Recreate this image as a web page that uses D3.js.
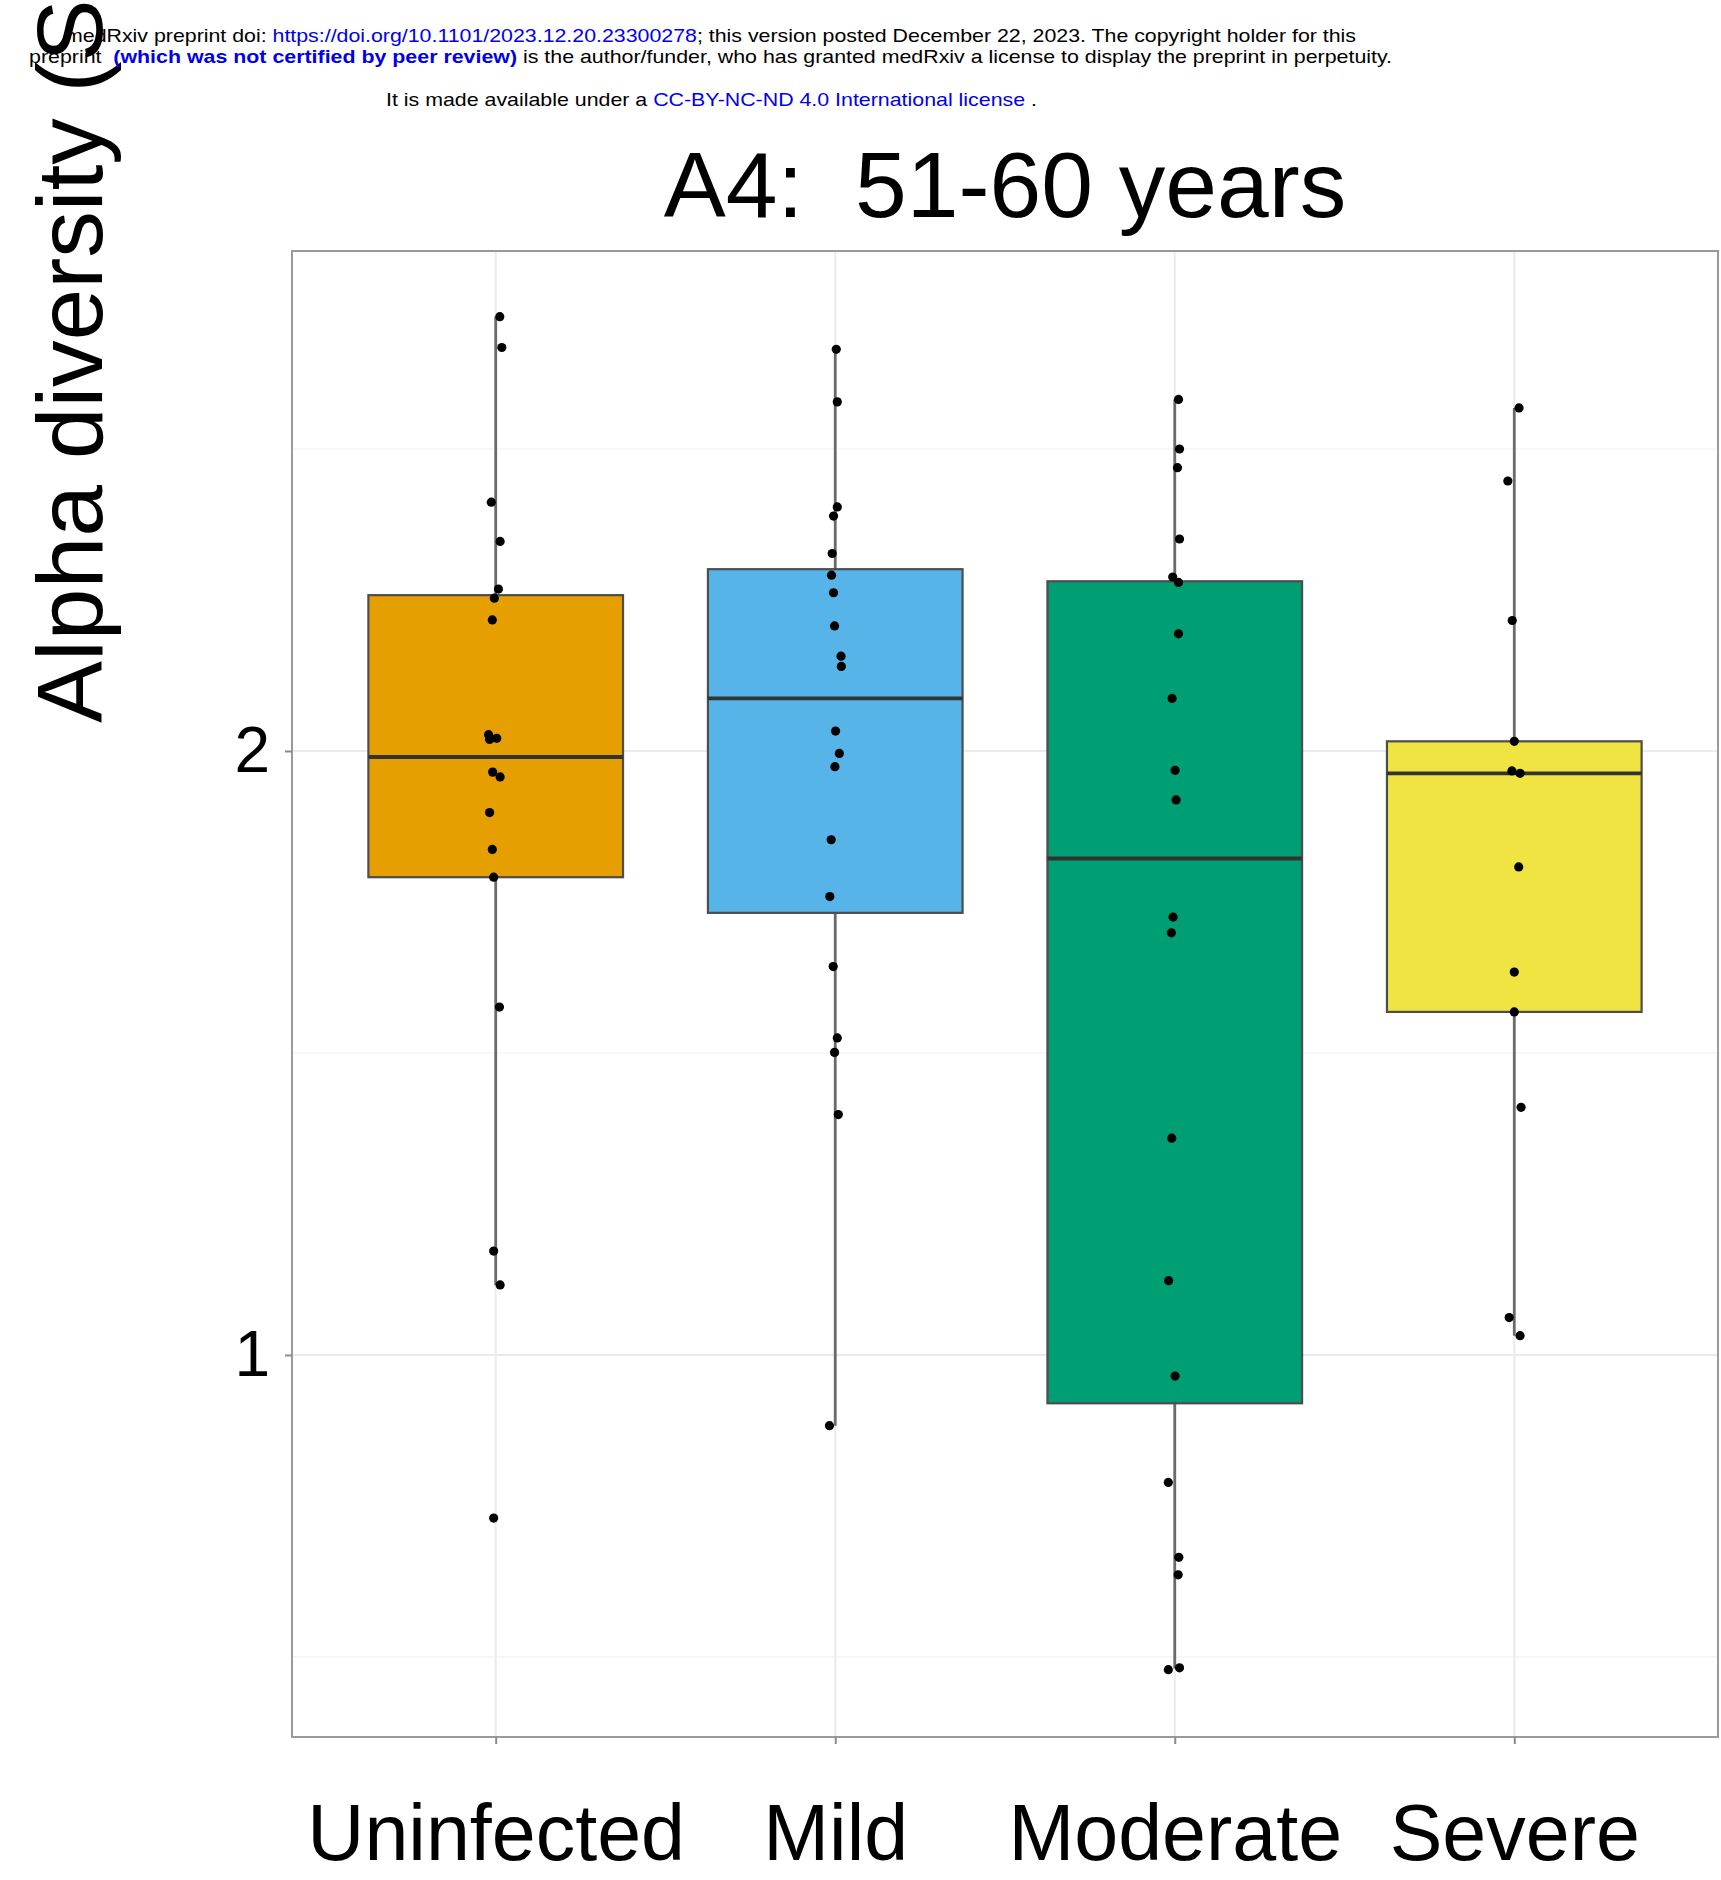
<!DOCTYPE html>
<html>
<head>
<meta charset="utf-8">
<script src="https://cdn.jsdelivr.net/npm/d3@7"></script>
<style>
  html, body { margin: 0; padding: 0; background: #fff; }
  svg { display: block; font-family: "Liberation Sans", Arial, sans-serif; }
</style>
</head>
<body>
<svg id="chart" width="1721" height="1880"></svg>
<script>
// ---------- data ----------
const categories = ["Uninfected", "Mild", "Moderate", "Severe"];
const fillColors = ["#E69F00", "#56B4E9", "#009E73", "#F0E442"];

// box statistics
const q1Values      = [1.791, 1.732, 0.920, 1.568];
const medianValues  = [1.990, 2.087, 1.822, 1.963];
const q3Values      = [2.258, 2.301, 2.281, 2.016];
const whiskerLow    = [1.116, 0.883, 0.481, 1.032];
const whiskerHigh   = [2.719, 2.665, 2.582, 2.568];

// individual observations (Shannon index)
const uninfectedPoints = [2.719, 2.668, 2.412, 2.347, 2.268, 2.253, 2.217, 2.027, 2.019, 2.021, 1.965, 1.957, 1.898, 1.837, 1.791, 1.576, 1.172, 1.116, 0.730];
const mildPoints       = [2.665, 2.578, 2.404, 2.389, 2.327, 2.291, 2.262, 2.207, 2.157, 2.140, 2.033, 1.996, 1.974, 1.853, 1.759, 1.643, 1.525, 1.501, 1.398, 0.883];
const moderatePoints   = [2.582, 2.500, 2.469, 2.351, 2.288, 2.279, 2.194, 2.087, 1.968, 1.919, 1.725, 1.699, 1.359, 1.123, 0.965, 0.789, 0.665, 0.636, 0.479, 0.482];
const severePoints     = [2.568, 2.447, 2.216, 2.016, 1.967, 1.963, 1.808, 1.634, 1.568, 1.410, 1.062, 1.032];

// horizontal jitter of each point, in category units
const uninfectedJitter = [0.012, 0.018, -0.013, 0.013, 0.008, -0.004, -0.010, -0.021, -0.018, 0.003, -0.009, 0.013, -0.018, -0.010, -0.006, 0.011, -0.006, 0.013, -0.006];
const mildJitter       = [0.003, 0.006, 0.006, -0.005, -0.009, -0.011, -0.005, -0.002, 0.017, 0.018, 0.001, 0.012, -0.001, -0.012, -0.016, -0.006, 0.006, -0.002, 0.009, -0.017];
const moderateJitter   = [0.011, 0.014, 0.008, 0.014, -0.006, 0.011, 0.011, -0.008, 0.001, 0.004, -0.005, -0.010, -0.009, -0.018, 0.001, -0.019, 0.012, 0.010, -0.019, 0.014];
const severeJitter     = [0.014, -0.019, -0.006, 0.000, -0.007, 0.017, 0.013, 0.000, 0.000, 0.020, -0.015, 0.017];

const yTickValues = [1, 2];
const yMinorValues = [0.5, 1.5, 2.5];
const yDomain = [0.3675, 2.8278];

const titleText = "A4:  51-60 years";
const yLabelText = "Alpha diversity (Shannon)";

// ---------- layout ----------
const svg = d3.select("#chart");
const panel = { left: 292, right: 1718, top: 251, bottom: 1737 };

const x = d3.scalePoint().domain(categories).range([panel.left, panel.right]).padding(0.6);
const step = x.step();
const y = d3.scaleLinear().domain(yDomain).range([panel.bottom, panel.top]);
const boxWidth = 0.75 * step;

const groups = categories.map((c, i) => ({
  cat: c,
  fill: fillColors[i],
  q1: q1Values[i], med: medianValues[i], q3: q3Values[i],
  lo: whiskerLow[i], hi: whiskerHigh[i],
  pts: [uninfectedPoints, mildPoints, moderatePoints, severePoints][i],
  jit: [uninfectedJitter, mildJitter, moderateJitter, severeJitter][i]
}));

// ---------- grid ----------
const grid = svg.append("g");
grid.selectAll("line.minor").data(yMinorValues).join("line")
  .attr("x1", panel.left).attr("x2", panel.right)
  .attr("y1", d => y(d)).attr("y2", d => y(d))
  .attr("stroke", "#f2f2f2").attr("stroke-width", 1.2);
grid.selectAll("line.major").data(yTickValues).join("line")
  .attr("x1", panel.left).attr("x2", panel.right)
  .attr("y1", d => y(d)).attr("y2", d => y(d))
  .attr("stroke", "#ebebeb").attr("stroke-width", 2);
grid.selectAll("line.vx").data(categories).join("line")
  .attr("x1", d => x(d)).attr("x2", d => x(d))
  .attr("y1", panel.top).attr("y2", panel.bottom)
  .attr("stroke", "#ebebeb").attr("stroke-width", 2);

// ---------- boxes ----------
const boxG = svg.append("g").selectAll("g").data(groups).join("g");
boxG.append("line")
  .attr("x1", d => x(d.cat)).attr("x2", d => x(d.cat))
  .attr("y1", d => y(d.hi)).attr("y2", d => y(d.q3))
  .attr("stroke", "#6a6a6a").attr("stroke-width", 2.8);
boxG.append("line")
  .attr("x1", d => x(d.cat)).attr("x2", d => x(d.cat))
  .attr("y1", d => y(d.q1)).attr("y2", d => y(d.lo))
  .attr("stroke", "#6a6a6a").attr("stroke-width", 2.8);
boxG.append("rect")
  .attr("x", d => x(d.cat) - boxWidth / 2)
  .attr("width", boxWidth)
  .attr("y", d => y(d.q3))
  .attr("height", d => y(d.q1) - y(d.q3))
  .attr("fill", d => d.fill)
  .attr("stroke", "#4d4d4d").attr("stroke-width", 2.2);
boxG.append("line")
  .attr("x1", d => x(d.cat) - boxWidth / 2).attr("x2", d => x(d.cat) + boxWidth / 2)
  .attr("y1", d => y(d.med)).attr("y2", d => y(d.med))
  .attr("stroke", "#333333").attr("stroke-width", 3.8);

// ---------- points ----------
const ptData = groups.flatMap(g => g.pts.map((v, j) => ({ cat: g.cat, v, j: g.jit[j] })));
svg.append("g").selectAll("circle").data(ptData).join("circle")
  .attr("cx", d => x(d.cat) + d.j * step)
  .attr("cy", d => y(d.v))
  .attr("r", 4.6)
  .attr("fill", "#000");

// ---------- panel border ----------
svg.append("rect")
  .attr("x", panel.left).attr("y", panel.top)
  .attr("width", panel.right - panel.left).attr("height", panel.bottom - panel.top)
  .attr("fill", "none").attr("stroke", "#9a9a9a").attr("stroke-width", 2);

// ---------- axes ----------
const yAxis = svg.append("g")
  .attr("transform", `translate(${panel.left},0)`)
  .call(d3.axisLeft(y).tickValues(yTickValues).tickFormat(d3.format("d")).tickSize(7).tickPadding(15));
yAxis.select(".domain").remove();
yAxis.selectAll(".tick line").attr("stroke", "#8a8a8a").attr("stroke-width", 2);
yAxis.selectAll(".tick text").attr("font-size", 64).attr("fill", "#000")
  .attr("font-family", "'Liberation Sans', Arial, sans-serif");

const xAxis = svg.append("g")
  .attr("transform", `translate(0,${panel.bottom})`)
  .call(d3.axisBottom(x).tickSize(7).tickPadding(60));
xAxis.select(".domain").remove();
xAxis.selectAll(".tick line").attr("stroke", "#8a8a8a").attr("stroke-width", 2);
xAxis.selectAll(".tick text").attr("font-size", 79).attr("fill", "#000")
  .attr("font-family", "'Liberation Sans', Arial, sans-serif");

// ---------- title & y label ----------
svg.append("text")
  .attr("x", (panel.left + panel.right) / 2).attr("y", 217)
  .attr("text-anchor", "middle").attr("font-size", 93).attr("fill", "#000")
  .attr("xml:space", "preserve").style("white-space", "pre")
  .text(titleText);

svg.append("text")
  .attr("transform", "translate(102,723) rotate(-90)")
  .attr("text-anchor", "start").attr("font-size", 93).attr("fill", "#000")
  .text(yLabelText);

// ---------- preprint header ----------
const headerLines = [
  { x: 65, y: 42, len: 1291, parts: [
    { t: "medRxiv preprint doi: ", c: "#000" },
    { t: "https://doi.org/10.1101/2023.12.20.23300278", c: "#0000ee" },
    { t: "; this version posted December 22, 2023. The copyright holder for this", c: "#000" } ] },
  { x: 29, y: 63, len: 1363, parts: [
    { t: "preprint  ", c: "#000" },
    { t: "(which was not certified by peer review)", c: "#0000ee", b: true },
    { t: " is the author/funder, who has granted medRxiv a license to display the preprint in perpetuity.", c: "#000" } ] },
  { x: 386, y: 106, len: 651, parts: [
    { t: "It is made available under a ", c: "#000" },
    { t: "CC-BY-NC-ND 4.0 International license", c: "#0000ee" },
    { t: " .", c: "#000" } ] }
];
const hdr = svg.append("g").attr("font-size", 19);
headerLines.forEach(L => {
  const t = hdr.append("text").attr("x", L.x).attr("y", L.y)
    .attr("textLength", L.len).attr("lengthAdjust", "spacingAndGlyphs");
  L.parts.forEach(p => {
    t.append("tspan").attr("fill", p.c).attr("font-weight", p.b ? "bold" : "normal")
      .attr("xml:space", "preserve").style("white-space", "pre").text(p.t);
  });
});
</script>
</body>
</html>
